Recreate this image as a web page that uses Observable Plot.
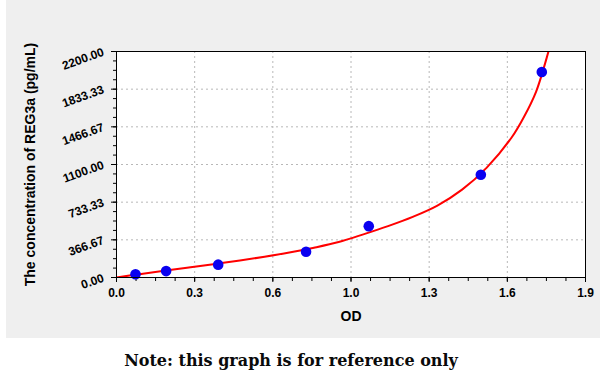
<!DOCTYPE html>
<html>
<head>
<meta charset="utf-8">
<script src="https://cdn.jsdelivr.net/npm/d3@7"></script>
<script src="https://cdn.jsdelivr.net/npm/@observablehq/plot@0.6"></script>
<style>
  html, body { margin: 0; padding: 0; background: #ffffff; }
  #panel { position: absolute; left: 6px; top: 0; width: 594px; height: 338px; background: #efefef; }
  #note { position: absolute; left: 0; top: 351px; width: 582px; text-align: center;
          font-family: "DejaVu Serif", "Liberation Serif", serif; font-weight: bold; font-size: 16px; color: #0a0a0a; }
</style>
</head>
<body>
<div id="panel"></div>
<div id="note">Note: this graph is for reference only</div>
<script>
// Standard points (OD, concentration pg/mL)
const pointOD = [0.077, 0.201, 0.412, 0.768, 1.022, 1.476, 1.723];
const pointConc = [31.25, 62.5, 125, 250, 500, 1000, 2000];

// Fitted curve
const curveOD = [0, 0.1, 0.2, 0.3, 0.4, 0.5, 0.6, 0.7, 0.8, 0.9, 1.0, 1.1, 1.2, 1.3, 1.4, 1.5, 1.6, 1.65, 1.7, 1.75, 1.76];
const curveConc = [0, 35, 68, 100, 132, 165, 202, 243, 290, 345, 420, 500, 590, 700, 855, 1070, 1360, 1560, 1810, 2200, 2290];

// Axis ticks
const xMajor = [0, 1.9/6, 2*1.9/6, 3*1.9/6, 4*1.9/6, 5*1.9/6, 1.9];
const xLabels = ["0.0", "0.3", "0.6", "1.0", "1.3", "1.6", "1.9"];
const yMajor = [0, 2200/6, 2*2200/6, 3*2200/6, 4*2200/6, 5*2200/6, 2200];
const yLabels = ["0.00", "366.67", "733.33", "1100.00", "1466.67", "1833.33", "2200.00"];
const xMinor = d3.range(25).map(i => i * 1.9 / 24);
const yMinor = d3.range(25).map(i => i * 2200 / 24);

const points = pointOD.map((d, i) => ({od: d, conc: pointConc[i]}));
const curve = curveOD.map((d, i) => ({od: d, conc: curveConc[i]}));

const chart = Plot.plot({
  width: 594,
  height: 338,
  marginLeft: 110,
  marginRight: 15,
  marginTop: 51,
  marginBottom: 61,
  style: {fontFamily: "'Liberation Sans', Arial, sans-serif", fontSize: "12px", fontWeight: "bold", background: "transparent", overflow: "visible", color: "#000"},
  x: {domain: [0, 1.9]},
  y: {domain: [0, 2200]},
  marks: [
    Plot.frame({fill: "#ffffff", stroke: null}),
    Plot.gridX(xMajor.slice(1, -1), {stroke: "#b8b8b8", strokeOpacity: 1, strokeDasharray: "2,3"}),
    Plot.gridY(yMajor.slice(1, -1), {stroke: "#b8b8b8", strokeOpacity: 1, strokeDasharray: "2,3"}),
    Plot.axisX(xMinor, {tickSize: 4, tickFormat: () => "", label: null, stroke: "#000"}),
    Plot.axisY(yMinor, {tickSize: 3, tickFormat: () => "", label: null, stroke: "#000"}),
    Plot.axisX(xMajor, {tickSize: 5, tickPadding: 6, fontSize: 12, tickFormat: (d, i) => xLabels[i], label: null, stroke: "#000", fill: "#000"}),
    Plot.axisY(yMajor, {tickSize: 5, tickPadding: 8, fontSize: 12, tickRotate: -20, tickFormat: (d, i) => yLabels[i], label: null, stroke: "#000", fill: "#000"}),
    Plot.line(curve, {x: "od", y: "conc", stroke: "#ff0000", strokeWidth: 2, curve: "catmull-rom", clip: true}),
    Plot.dot(points, {x: "od", y: "conc", r: 5.3, fill: "#0a00f0", stroke: null}),
    Plot.frame({stroke: "#000", strokeWidth: 1}),
    Plot.text(["OD"], {frameAnchor: "bottom", dy: 43, fontSize: 14, fontWeight: "bold", fill: "#000"}),
    Plot.text(["The concentration of REG3a (pg/mL)"], {frameAnchor: "left", textAnchor: "middle", dx: -86, rotate: -90, fontSize: 14, fontWeight: "bold", fill: "#000"})
  ]
});
chart.style.position = "absolute";
chart.style.left = "6px";
chart.style.top = "0px";
document.body.appendChild(chart);
</script>
</body>
</html>
